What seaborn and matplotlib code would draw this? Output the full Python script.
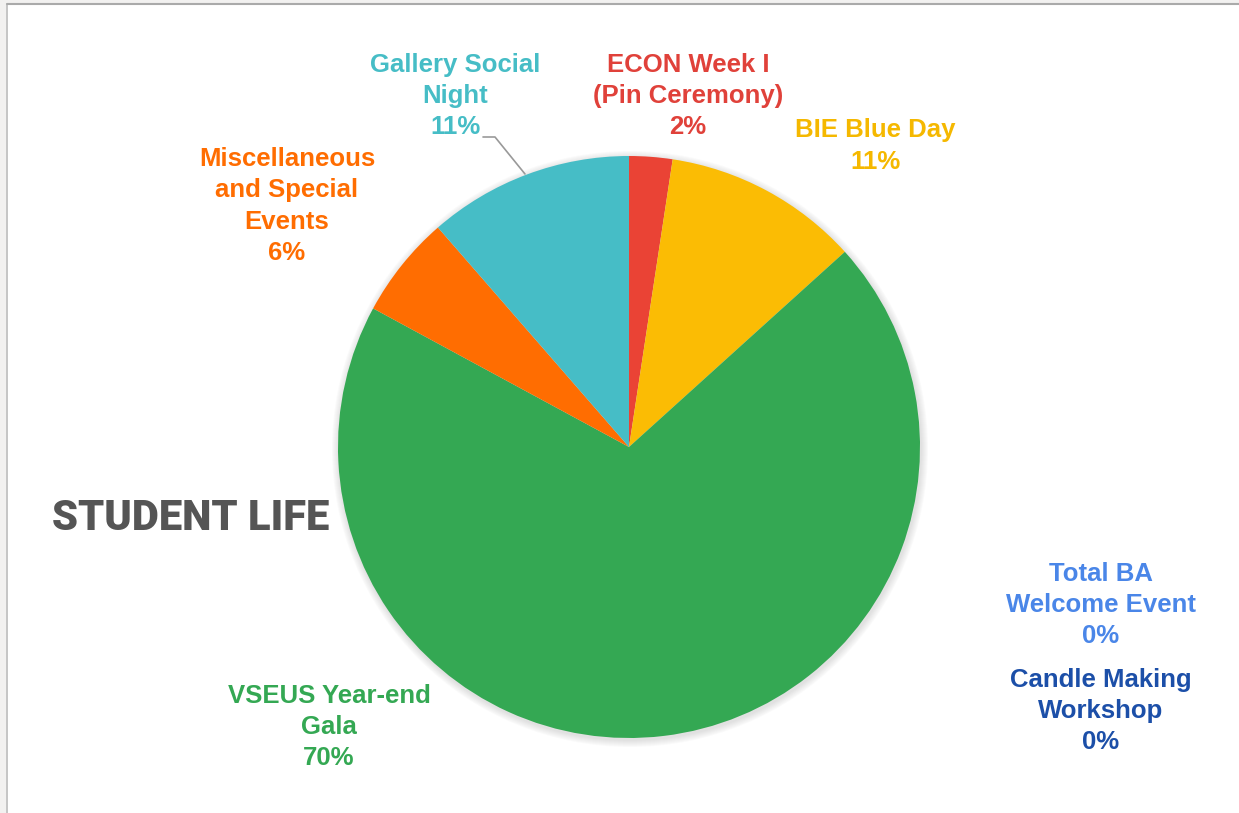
import matplotlib
matplotlib.use("Agg")
import matplotlib.pyplot as plt
import seaborn as sns
from matplotlib.patches import Circle, Rectangle

# ---- data ----
categories = ["ECON Week I\n(Pin Ceremony)", "BIE Blue Day", "Total BA\nWelcome Event",
              "Candle Making\nWorkshop", "VSEUS Year-end\nGala",
              "Miscellaneous\nand Special\nEvents", "Gallery Social\nNight"]
shares = [2.4, 10.9, 0.0, 0.0, 69.6, 5.7, 11.4]
slice_colors = ["#EA4335", "#FBBC04", "#4A86E8", "#1C4FA8", "#34A853", "#FF6D01", "#46BDC6"]
title_text = "STUDENT LIFE"

# ---- layout (pixel positions, top-left origin) ----
W, H = 1239, 813
center_px = (629, 447)
radius_px = 291
label_pos = [(688, 96), (875, 146), (1101, 605), (1101, 711), (329, 727), (287, 206), (455, 96)]
label_colors = ["#E0413A", "#F5B800", "#4A86E8", "#1C4FA8", "#34A853", "#FF6D01", "#46BDC6"]

sns.set_theme(style="white")
plt.rcParams['font.family'] = ['Liberation Sans', 'DejaVu Sans']

fig = plt.figure(figsize=(W / 100, H / 100), dpi=100)
ax = fig.add_axes([0, 0, 1, 1])
ax.set_xlim(0, W)
ax.set_ylim(0, H)
ax.set_aspect('equal')
ax.axis('off')

cx, cy = center_px[0], H - center_px[1]

# soft shadow
for i in range(7):
    ax.add_patch(Circle((cx + 1, cy - 2), radius_px + 1 + i, color="#888888",
                        alpha=0.035, lw=0, zorder=0))

ax.pie(shares, colors=slice_colors, startangle=90, counterclock=False,
       center=(cx, cy), radius=radius_px, frame=True,
       wedgeprops=dict(linewidth=0, edgecolor="none"))
ax.set_xlim(0, W)
ax.set_ylim(0, H)
ax.axis('off')

total = sum(shares)
for cat, v, (lx, ly), col in zip(categories, shares, label_pos, label_colors):
    pct = f"{round(v / total * 100):.0f}%"
    ax.text(lx, H - ly, f"{cat}\n{pct}", ha="center", va="center", color=col,
            fontsize=18.5, fontweight="bold", linespacing=1.38, zorder=5)

# leader line for Gallery Social Night
ax.plot([483, 495, 525], [H - 137, H - 137, H - 174], color="#999999", lw=1.2, zorder=4)

ax.text(52, H - 519, title_text, ha="left", va="center", color="#555555",
        fontsize=30, fontweight="black", family=["Roboto", "DejaVu Sans"], zorder=5)

# outer frame (screenshot border)
ax.add_patch(Rectangle((0, 0), 6, H, facecolor="#F2F1F0", edgecolor="none", zorder=6))
ax.add_patch(Rectangle((0, H - 3), W, 3, facecolor="#F2F1F0", edgecolor="none", zorder=6))
ax.plot([6.5, 6.5], [0, H - 3.5], color="#BBBBBB", lw=1.2, zorder=7)
ax.plot([6.5, W], [H - 3.5, H - 3.5], color="#AAAAAA", lw=1.5, zorder=7)

fig.savefig("out.png", dpi=100)
